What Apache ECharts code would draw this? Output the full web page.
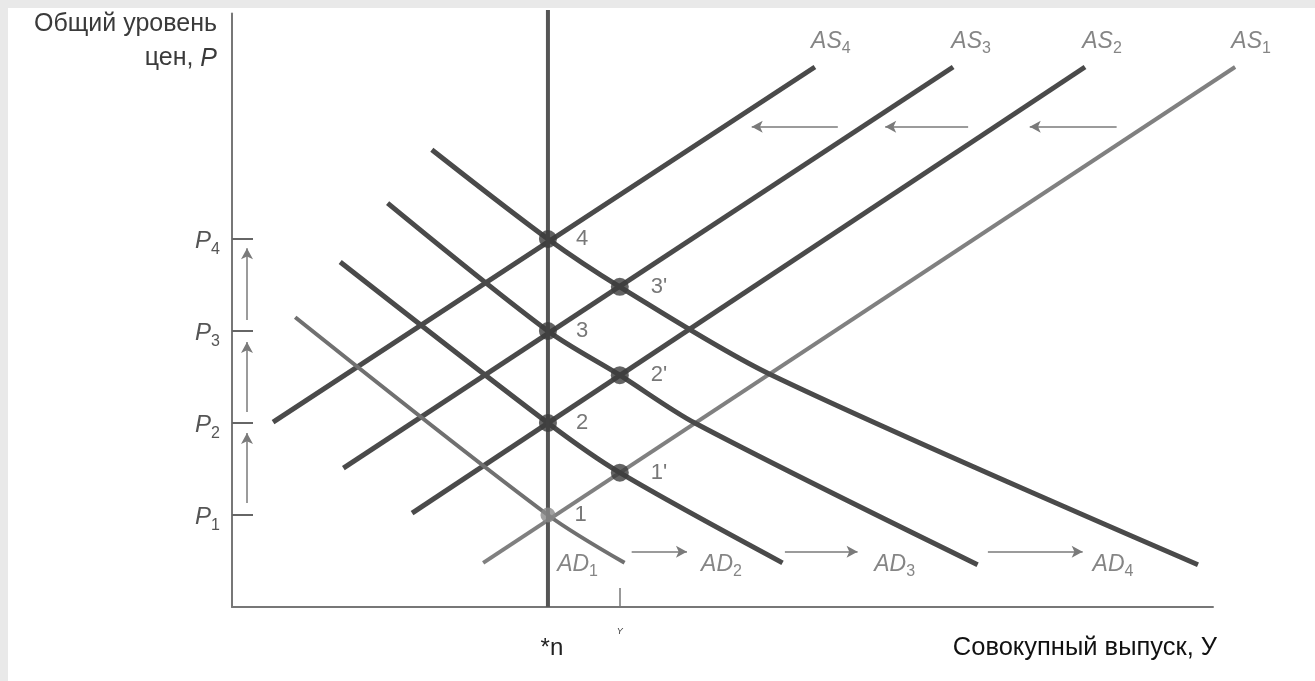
<!DOCTYPE html>
<html>
<head>
<meta charset="utf-8">
<title>AD-AS</title>
<script src="https://cdn.jsdelivr.net/npm/echarts@6.0.0/dist/echarts.min.js"></script>
<style>
  html, body { margin: 0; padding: 0; background: #e9e9e9; overflow: hidden; }
  .sheet { position: absolute; left: 8px; top: 8px; width: 1307px; height: 673px; background: #fff; }
  #chart { width: 100%; height: 100%; }
</style>
</head>
<body>
<div class="sheet"><div id="chart"></div></div>
<script>
// values (output on x, price level on y)
const outputNatural = 4      // Y*n
const outputHigh = 4.91      // Y'
const priceLevels = [1, 2, 3, 4]   // P1..P4

// aggregate supply, straight lines [x, y]
const as1 = [[3.18, 0.48], [12.70, 5.87]]
const as2 = [[2.28, 1.02], [10.80, 5.87]]
const as3 = [[1.41, 1.51], [9.13, 5.87]]
const as4 = [[0.52, 2.01], [7.38, 5.87]]

// aggregate demand, slightly convex curves
const ad1 = [[0.80, 3.15], [4, 1], [4.97, 0.48]]
const ad2 = [[1.37, 3.75], [4, 2], [4.91, 1.46], [6.97, 0.48]]
const ad3 = [[1.97, 4.39], [4, 3], [4.91, 2.52], [5.86, 2.0], [9.44, 0.46]]
const ad4 = [[2.53, 4.97], [4, 4], [4.91, 3.48], [6.81, 2.53], [12.23, 0.46]]

// long-run output line
const naturalLine = [[4, 0], [4, 6.49]]

// equilibrium points
const eqPoints = [[4, 1], [4, 2], [4, 3], [4, 4], [4.91, 1.46], [4.91, 2.52], [4.91, 3.48]]
const eqNames = ['1', '2', '3', '4', "1'", "2'", "3'"]

// shift arrows [from, to]
const adArrows = [[[5.06, 0.6], [5.76, 0.6]], [[7.0, 0.6], [7.92, 0.6]], [[9.57, 0.6], [10.77, 0.6]]]
const asArrows = [[[11.2, 5.22], [10.1, 5.22]], [[9.32, 5.22], [8.27, 5.22]], [[7.67, 5.22], [6.58, 5.22]]]
const priceArrows = [[[0.19, 1.13], [0.19, 1.89]], [[0.19, 2.12], [0.19, 2.88]], [[0.19, 3.12], [0.19, 3.9]]]

const FONT = '"Liberation Sans", Arial, sans-serif'
const DARK = '#4a4a4a'

const curves = [
  { name: 'AS', idx: 1, data: as1, color: '#808080', width: 4, offset: [16, -25] },
  { name: 'AS', idx: 2, data: as2, color: DARK, width: 5, offset: [17, -25] },
  { name: 'AS', idx: 3, data: as3, color: DARK, width: 5, offset: [18, -25] },
  { name: 'AS', idx: 4, data: as4, color: DARK, width: 5, offset: [16, -25] },
  { name: 'AD', idx: 1, data: ad1, color: '#707070', width: 4, offset: [-47, 2], smooth: true },
  { name: 'AD', idx: 2, data: ad2, color: DARK, width: 5, offset: [-61, 2], smooth: true },
  { name: 'AD', idx: 3, data: ad3, color: DARK, width: 5, offset: [-83, 0], smooth: true },
  { name: 'AD', idx: 4, data: ad4, color: DARK, width: 5, offset: [-85, 0], smooth: true }
]

const subRich = {
  m: { fontFamily: FONT, fontStyle: 'italic', fontSize: 23, color: '#666' },
  s: { fontFamily: FONT, fontSize: 16, color: '#666', padding: [14, 0, 0, 0] }
}

const chart = echarts.init(document.getElementById('chart'))

// all marks live on grid 1 (same scale as grid 0, a bit wider so AS1 fits)
const onPlot = { xAxisIndex: 1, yAxisIndex: 1 }

const series = curves.map(function(c) {
  return Object.assign({
    type: 'line',
    data: c.data,
    smooth: c.smooth ? 0.3 : false,
    showSymbol: false,
    silent: true,
    lineStyle: { color: c.color, width: c.width },
    z: 3
  }, onPlot)
})

series.push(Object.assign({
  type: 'line',
  data: naturalLine,
  showSymbol: false,
  silent: true,
  lineStyle: { color: '#555', width: 4 },
  z: 4,
  markLine: {
    silent: true,
    symbol: ['none', 'arrow'],
    symbolSize: [9, 11],
    label: { show: false },
    lineStyle: { color: '#7a7a7a', width: 1.5, type: 'solid' },
    data: adArrows.concat(asArrows, priceArrows).map(function(a) {
      return [{ coord: a[0] }, { coord: a[1] }]
    })
  }
}, onPlot))

// curve names at the ends of each curve
series.push(Object.assign({
  type: 'scatter',
  silent: true,
  symbolSize: 1,
  itemStyle: { color: 'rgba(0,0,0,0)' },
  z: 6,
  data: curves.map(function(c) {
    return {
      value: c.data[c.data.length - 1],
      label: {
        show: true,
        position: 'inside',
        offset: c.offset,
        formatter: '{m|' + c.name + '}{s|' + c.idx + '}',
        rich: subRich
      }
    }
  })
}, onPlot))

// equilibrium points
series.push(Object.assign({
  type: 'scatter',
  silent: true,
  z: 7,
  data: eqPoints.map(function(p, i) {
    return {
      value: p,
      symbolSize: i === 0 ? 15 : 18,
      itemStyle: { color: i === 0 ? '#8a8a8a' : '#3c3c3c' },
      label: {
        show: true,
        position: 'right',
        distance: i < 4 ? 19 : 22,
        formatter: eqNames[i],
        fontFamily: FONT,
        fontSize: 22,
        color: '#555'
      }
    }
  })
}, onPlot))

const option = {
  animation: false,
  backgroundColor: '#fff',
  grid: [
    { left: 224, right: 102, top: 5.6, bottom: 74, containLabel: false, outerBoundsMode: 'none' },
    { left: 224, right: 56.2, top: 0, bottom: 74, containLabel: false, outerBoundsMode: 'none' }
  ],
  xAxis: [{
    type: 'value',
    gridIndex: 0,
    min: 0,
    max: 12.42,
    name: 'Совокупный выпуск, У',
    nameLocation: 'end',
    nameGap: 4,
    nameTextStyle: {
      fontFamily: FONT, fontSize: 25.5, color: '#111',
      align: 'right', verticalAlign: 'top', lineHeight: 26, padding: [28, 0, 0, 0]
    },
    axisLine: { show: true, lineStyle: { color: '#777', width: 2 } },
    axisTick: { show: true, inside: true, length: 19, customValues: [outputHigh], lineStyle: { color: '#777', width: 1.5 } },
    axisLabel: {
      show: true,
      customValues: [outputNatural, outputHigh],
      margin: 20,
      formatter: function(v) {
        return v === outputNatural ? '{n|*n}' : '{y|Y}'
      },
      rich: {
        n: { fontFamily: FONT, fontSize: 24, color: '#222', padding: [9, 0, 0, 8] },
        y: { fontFamily: FONT, fontSize: 9, fontStyle: 'italic', color: '#333' }
      }
    },
    splitLine: { show: false }
  }, {
    type: 'value',
    gridIndex: 1,
    min: 0,
    max: 13.0,
    show: false
  }],
  yAxis: [{
    type: 'value',
    gridIndex: 0,
    min: 0,
    max: 6.45,
    name: '{t|Общий уровень}\n{t|цен, }{i|P}',
    nameLocation: 'end',
    nameGap: 6,
    nameTextStyle: {
      align: 'right',
      verticalAlign: 'top',
      padding: [0, 15, 0, 0],
      rich: {
        t: { fontFamily: FONT, fontSize: 25, color: '#3a3a3a', lineHeight: 34 },
        i: { fontFamily: FONT, fontSize: 25, fontStyle: 'italic', color: '#3a3a3a', lineHeight: 34 }
      }
    },
    axisLine: { show: true, lineStyle: { color: '#777', width: 2 } },
    axisTick: { show: true, inside: true, length: 21, customValues: priceLevels, lineStyle: { color: '#666', width: 2 } },
    axisLabel: {
      show: true,
      customValues: priceLevels,
      margin: 12,
      formatter: function(v) {
        return '{p|P}{s|' + (priceLevels.indexOf(v) + 1) + '}'
      },
      rich: {
        p: { fontFamily: FONT, fontStyle: 'italic', fontSize: 24, color: '#555', padding: [4, 0, 0, 0] },
        s: { fontFamily: FONT, fontSize: 16, color: '#555', padding: [22, 0, 0, 0] }
      }
    },
    splitLine: { show: false }
  }, {
    type: 'value',
    gridIndex: 1,
    min: 0,
    max: 6.511,
    show: false
  }],
  series: series
}

chart.setOption(option)
</script>
</body>
</html>
